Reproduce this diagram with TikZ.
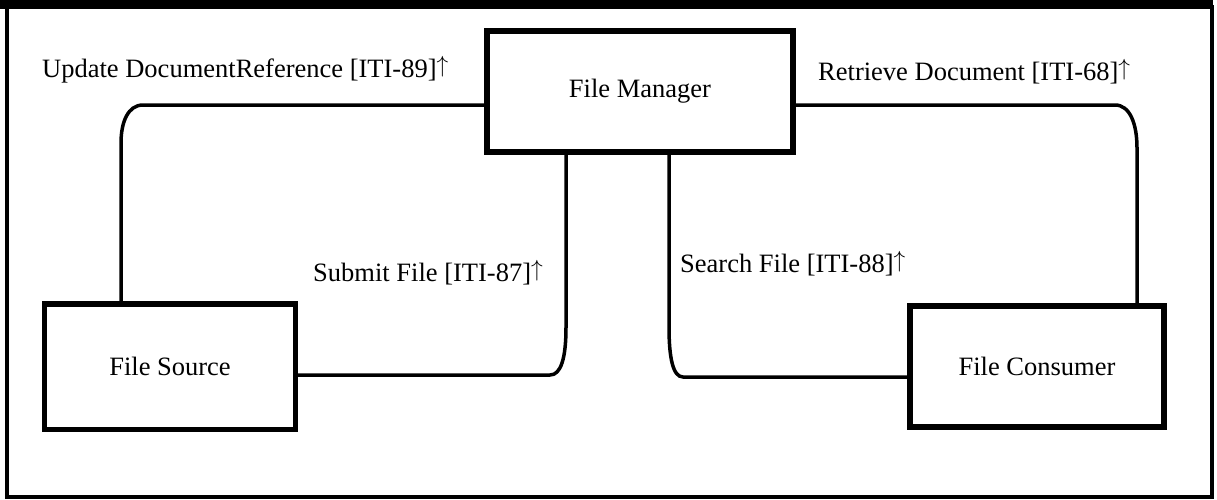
\documentclass[tikz,border=0pt]{standalone}
\usepackage{fontspec}
\setmainfont{Liberation Serif}
\newcommand\myuparr{\raisebox{0.18em}{\scalebox{0.94}{$\uparrow$}}}
\begin{document}
\begin{tikzpicture}[x=1pt,y=-1pt,
  box/.style={draw,line width=5.5pt,minimum width=#1,inner sep=0pt,outer sep=0pt,font=\fontsize{26.5}{30}\selectfont},
  conn/.style={line width=3.5pt},
  lbl/.style={inner sep=0pt,font=\fontsize{26.5}{30}\selectfont}]
\useasboundingbox (0,0) rectangle (1217,499);
% outer frame
\fill (0,0) rectangle (1213,9);
\draw[line width=4pt] (7,5) -- (7,497) -- (1211.5,497) -- (1211.5,5);
% boxes
\node[box=306pt,minimum height=121pt] (fm) at (640,91.5) {File Manager};
\node[box=251pt,minimum height=125.5pt] (fs) at (170,366.75) {File Source};
\node[box=254pt,minimum height=121pt] (fc) at (1037,366.5) {File Consumer};
% connectors
\draw[conn] (fm.west |- 0,105) -- (143,105) .. controls (128,105) and (121,122) .. (121,143) -- (121,0 |- fs.north);
\draw[conn] (fm.east |- 0,105) -- (1115,105) .. controls (1130,105) and (1137,124) .. (1137,148) -- (1137,0 |- fc.north);
\draw[conn] (566,0 |- fm.south) -- (566,327) .. controls (566,358) and (561,375) .. (550,375) -- (fs.east |- 0,375);
\draw[conn] (669,0 |- fm.south) -- (669,327) .. controls (669,358) and (673,377) .. (683,377) -- (fc.west |- 0,377);
% labels
\node[lbl,anchor=base west] (l1) at (42,77) {Update DocumentReference [ITI-89]\myuparr};
\node[lbl,anchor=base west] (l2) at (818,80) {Retrieve Document [ITI-68]\myuparr};
\node[lbl,anchor=base west] (l3) at (313,281) {Submit File [ITI-87]\myuparr};
\node[lbl,anchor=base west] (l4) at (680,272) {Search File [ITI-88]\myuparr};
\end{tikzpicture}
\end{document}
